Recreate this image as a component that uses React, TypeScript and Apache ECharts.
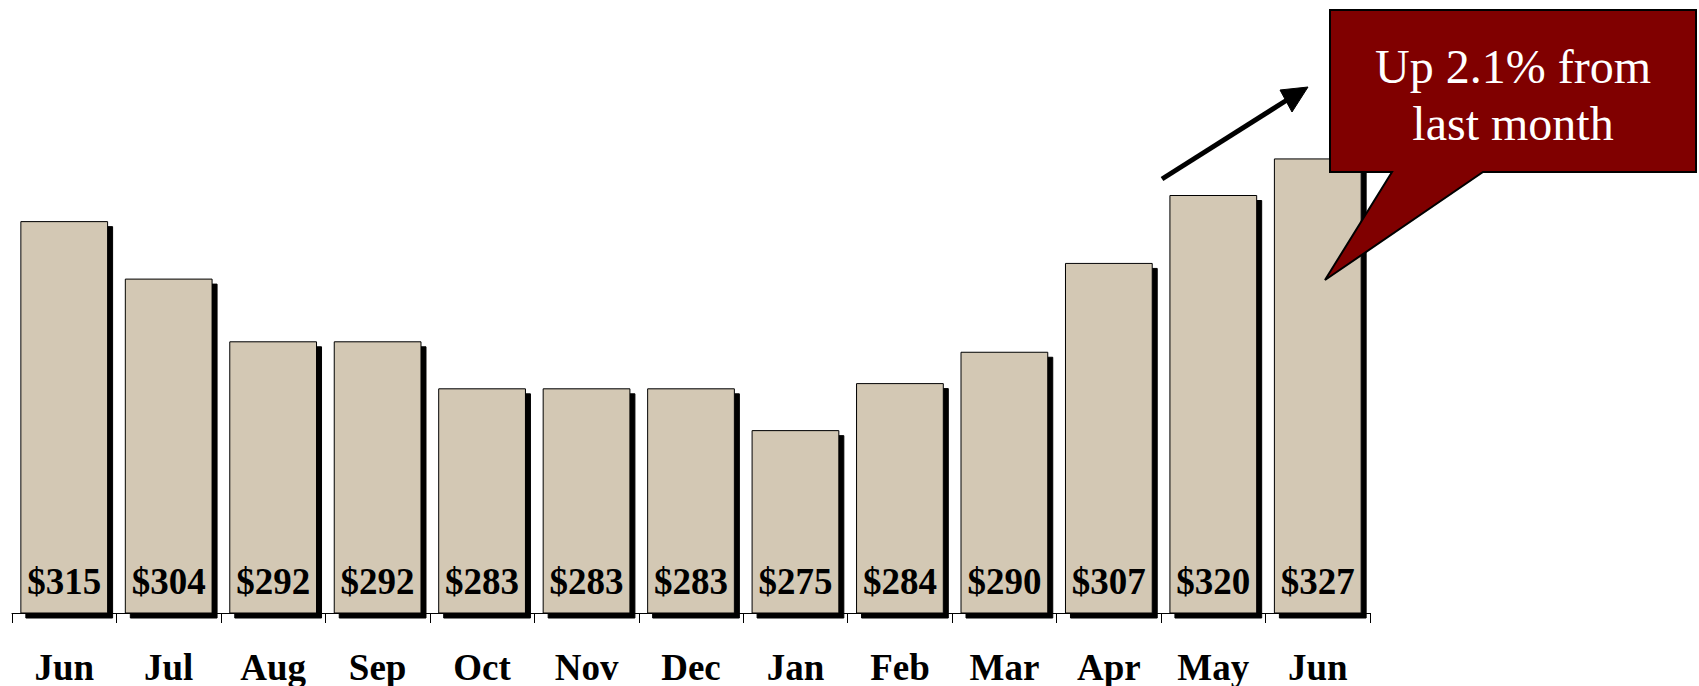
import React, { useEffect, useRef } from "react";
import * as echarts from "echarts";

const categories = ["Jun", "Jul", "Aug", "Sep", "Oct", "Nov", "Dec", "Jan", "Feb", "Mar", "Apr", "May", "Jun"];
const values = [315, 304, 292, 292, 283, 283, 283, 275, 284, 290, 307, 320, 327];
const calloutLines = ["Up 2.1% from", "last month"];

const SERIF = '"Times New Roman", "Liberation Serif", "DejaVu Serif", serif';

export default function App() {
  const ref = useRef<HTMLDivElement>(null);
  useEffect(() => {
    if (!ref.current) return;
    const chart = echarts.init(ref.current, undefined, { renderer: "svg" });
    chart.setOption({
      animation: false,
      backgroundColor: "#ffffff",
      grid: { left: 12, right: 329, top: 90.5, bottom: 73, containLabel: false },
      xAxis: {
        type: "category",
        data: categories.map((c, i) => c + "_" + i),
        boundaryGap: true,
        axisLine: { show: true, lineStyle: { color: "#000", width: 1 } },
        axisTick: { show: true, length: 10, alignWithLabel: false, lineStyle: { color: "#000", width: 1 } },
        axisLabel: {
          interval: 0,
          margin: 37,
          lineHeight: 34,
          color: "#000",
          fontFamily: SERIF,
          fontWeight: "bold",
          fontSize: 37,
          formatter: (v: string) => v.split("_")[0],
        },
      },
      yAxis: {
        type: "value",
        min: 240,
        max: 340,
        show: false,
        splitLine: { show: false },
      },
      series: [
        {
          type: "bar",
          data: values,
          barCategoryGap: "16%",
          itemStyle: {
            color: "#D3C8B4",
            borderColor: "#000",
            borderWidth: 1,
            shadowColor: "#000",
            shadowBlur: 0,
            shadowOffsetX: 5,
            shadowOffsetY: 5,
          },
          label: {
            show: true,
            position: "insideBottom",
            distance: 14,
            color: "#000",
            fontFamily: SERIF,
            fontWeight: "bold",
            fontSize: 37,
            formatter: (p: any) => "$" + p.value,
          },
        },
      ],
      graphic: [
        {
          type: "line",
          shape: { x1: 1162, y1: 179, x2: 1287, y2: 100 },
          style: { stroke: "#000", lineWidth: 5 },
          z: 100,
        },
        {
          type: "polygon",
          shape: { points: [[1308, 87], [1292, 112], [1280, 90]] },
          style: { fill: "#000", stroke: "#000", lineWidth: 1 },
          z: 100,
        },
        {
          type: "polygon",
          shape: {
            points: [
              [1330, 10],
              [1696, 10],
              [1696, 172],
              [1483, 172],
              [1325, 280],
              [1392, 172],
              [1330, 172],
            ],
          },
          style: { fill: "#800000", stroke: "#000", lineWidth: 2 },
          z: 100,
        },
        {
          type: "text",
          x: 1513,
          y: 66,
          style: {
            text: calloutLines[0],
            fill: "#fff",
            font: `48px ${SERIF}`,
            align: "center",
            verticalAlign: "middle",
          },
          z: 101,
        },
        {
          type: "text",
          x: 1513,
          y: 123,
          style: {
            text: calloutLines[1],
            fill: "#fff",
            font: `48px ${SERIF}`,
            align: "center",
            verticalAlign: "middle",
          },
          z: 101,
        },
      ],
    });
    return () => chart.dispose();
  }, []);
  return (
    <div
      ref={ref}
      style={{ position: "fixed", left: 0, top: 0, width: 1699, height: 686, background: "#fff" }}
    />
  );
}
